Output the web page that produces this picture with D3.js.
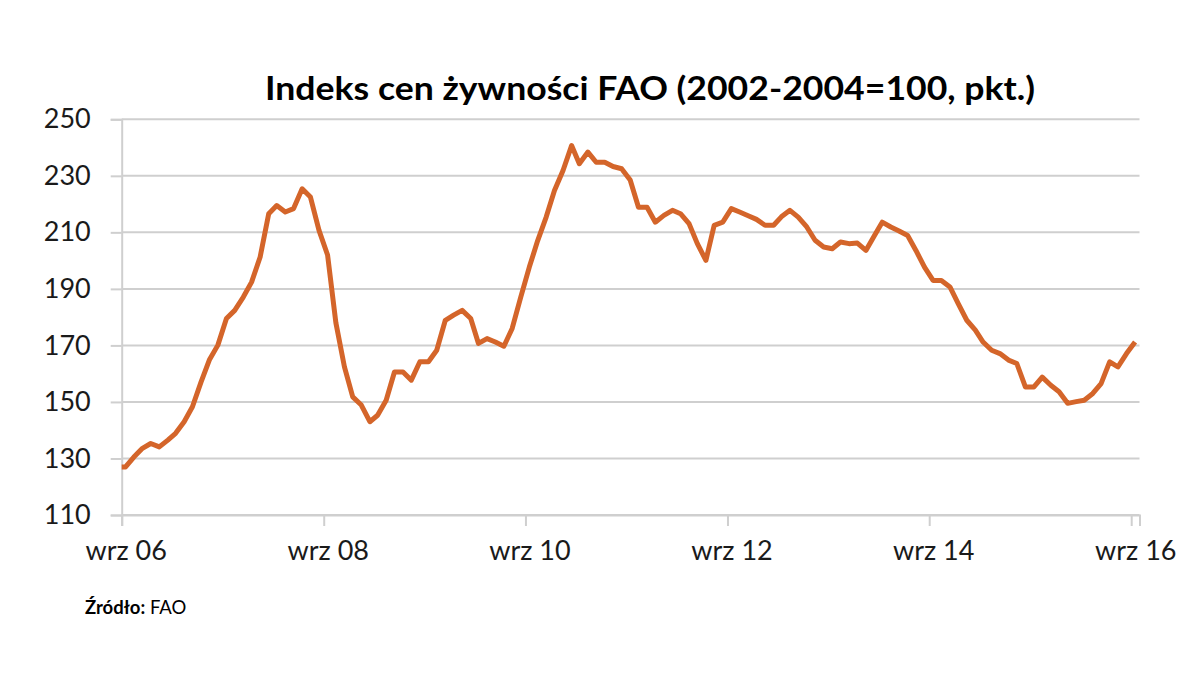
<!DOCTYPE html>
<html><head><meta charset="utf-8">
<script src="https://cdn.jsdelivr.net/npm/d3@7"></script>
<style>body{margin:0;background:#fff}</style>
</head><body>
<svg id="chart" width="1200" height="675"></svg>
<script>
// ---- data ----
const chartTitle = "Indeks cen żywności FAO (2002-2004=100, pkt.)";
const sourceLabel = "Źródło:";
const sourceText = " FAO";
// monthly values, Aug 2006 .. Sep 2016
const firstMonth = [2006, 7]; // Aug 2006 (JS month index)
const values = [
  127, 127, 130.5, 133.6, 135.3, 134.1, 136.5, 138.9, 143, 148.3, 157, 164.8,
  170.1, 179.5, 182.4, 187.1, 192.4, 201.3, 216.6, 219.5, 217.2, 218.4, 225.4, 222.5,
  210.7, 202, 178, 162.4, 151.8, 148.9, 143, 145.3, 150.6, 160.6, 160.6, 157.7,
  164.2, 164.2, 168.3, 178.9, 180.7, 182.4, 179.5, 170.7, 172.4, 171.2, 169.7, 176,
  187.1, 197.7, 207, 215.4, 224.8, 231.9, 240.7, 234.3, 238.4, 234.8, 234.8, 233.3,
  232.5, 228.5, 218.9, 218.9, 213.6, 216, 217.8, 216.6, 213.1, 206, 200.1, 212.5,
  213.6, 218.4, 217.2, 215.9, 214.6, 212.5, 212.5, 215.5, 217.8, 215.4, 211.9, 207.2,
  204.8, 204.2, 206.6, 206, 206.2, 203.6, 208.9, 213.6, 211.9, 210.5, 208.9, 203.6,
  197.7, 193, 193, 190.7, 184.8, 178.9, 175.4, 171.2, 168.3, 167.1, 164.8, 163.6,
  155.3, 155.3, 158.8, 155.9, 153.6, 149.5, 150.1, 150.6, 153, 156.5, 164.2, 162.4,
  167.1, 171.2
];
const yTicks = [110, 130, 150, 170, 190, 210, 230, 250];
const xTickDates = ["2006-09-01", "2008-09-01", "2010-09-01", "2012-09-01", "2014-09-01", "2016-09-01"];
const xTickLabels = ["wrz 06", "wrz 08", "wrz 10", "wrz 12", "wrz 14", "wrz 16"];
const axisRange = ["2006-09-01", "2016-10-01"];

// ---- chart ----
const parse = d3.timeParse("%Y-%m-%d");
const data = values.map((v, i) => ({
  date: d3.timeDay.offset(d3.timeMonth.offset(new Date(firstMonth[0], firstMonth[1], 1), i), 14),
  value: v
}));

const svg = d3.select("#chart");
const pLeft = 121.7, pRight = 1139.5, pTop = 119.3, pBottom = 515;
const x = d3.scaleTime().domain(axisRange.map(parse)).range([pLeft, pRight]);
const y = d3.scaleLinear().domain([110, 250]).range([pBottom, pTop]);
const font = "Lato, 'Open Sans', sans-serif";
const gridColor = "#cfcfcf";

// gridlines
svg.append("g").selectAll("line").data(yTicks).join("line")
  .attr("x1", pLeft).attr("x2", pRight)
  .attr("y1", d => y(d)).attr("y2", d => y(d))
  .attr("stroke", gridColor).attr("stroke-width", 2);

// y axis
const yAxis = d3.axisLeft(y).tickValues(yTicks).tickSize(11).tickPadding(20);
const gy = svg.append("g").attr("transform", `translate(${pLeft},0)`).call(yAxis);
gy.select(".domain").attr("stroke", gridColor).attr("stroke-width", 2);
gy.selectAll(".tick line").attr("stroke", gridColor).attr("stroke-width", 2);
gy.selectAll(".tick text").attr("font-family", font).attr("font-size", 27).attr("fill", "#1a1a1a");

// x axis
const xAxis = d3.axisBottom(x).tickValues(xTickDates.map(parse))
  .tickFormat((d, i) => xTickLabels[i]).tickSize(11).tickPadding(15);
const gx = svg.append("g").attr("transform", `translate(0,${pBottom})`).call(xAxis);
gx.select(".domain").attr("stroke", gridColor).attr("stroke-width", 2);
gx.selectAll(".tick line").attr("stroke", gridColor).attr("stroke-width", 2);
gx.selectAll(".tick text").attr("font-family", font).attr("font-size", 27).attr("fill", "#1a1a1a")
  .attr("dx", 4);

// clip
svg.append("clipPath").attr("id", "plotclip").append("rect")
  .attr("x", pLeft).attr("y", pTop - 10).attr("width", pRight - pLeft).attr("height", pBottom - pTop + 10);

// line
const line = d3.line().x(d => x(d.date)).y(d => y(d.value));
svg.append("path").datum(data)
  .attr("clip-path", "url(#plotclip)")
  .attr("d", line)
  .attr("fill", "none")
  .attr("stroke", "#d4652a")
  .attr("stroke-width", 5)
  .attr("stroke-linejoin", "round");

// title
svg.append("text").attr("x", 650).attr("y", 100).attr("text-anchor", "middle")
  .attr("font-family", font).attr("font-weight", "bold").attr("font-size", 33)
  .attr("textLength", 770).attr("lengthAdjust", "spacingAndGlyphs")
  .attr("fill", "#000").text(chartTitle);

// source
const src = svg.append("text").attr("x", 85).attr("y", 614)
  .attr("font-family", font).attr("font-size", 18.5).attr("fill", "#000");
src.append("tspan").attr("font-weight", "bold").text(sourceLabel);
src.append("tspan").text(sourceText);
</script>
</body></html>
